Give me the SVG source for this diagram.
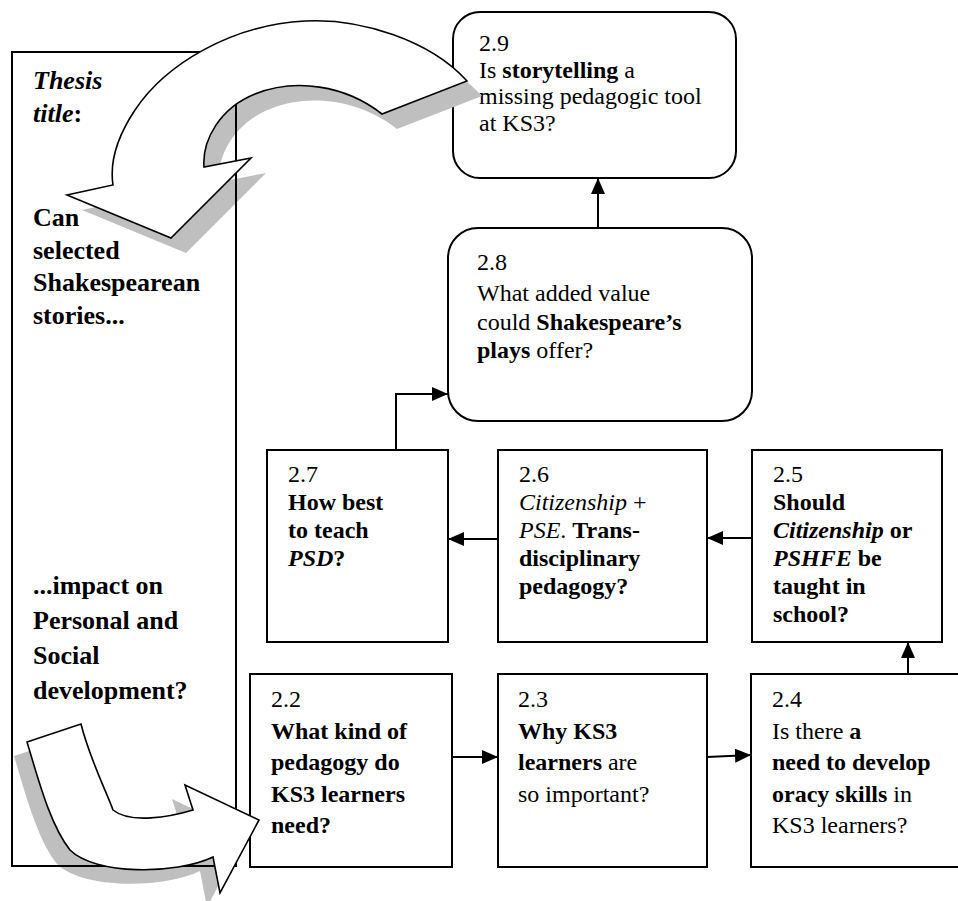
<svg xmlns="http://www.w3.org/2000/svg" width="958" height="901" viewBox="0 0 958 901" font-family="'Liberation Serif', 'Times New Roman', 'DejaVu Serif', serif">
<style>
text, tspan{font-family:'Liberation Serif', 'Times New Roman', 'DejaVu Serif', serif;fill:#000}
.t{font-size:24px}
.lt{font-size:26px;font-weight:bold}
.b{font-weight:bold}
.i{font-style:italic}
.box{fill:#fff;stroke:#000;stroke-width:2}
.frame{fill:none;stroke:#000;stroke-width:2}
.conn{fill:none;stroke:#000;stroke-width:2}
.shadow{fill:#bfbfbf;stroke:none}
.bigarrow{fill:#fff;stroke:#000;stroke-width:1.6;stroke-linejoin:miter}
</style>
<defs>
<marker id="ah" markerUnits="userSpaceOnUse" markerWidth="16" markerHeight="14" refX="16" refY="7" orient="auto">
<path d="M0,0 L16,7 L0,14 Z" fill="#000"/>
</marker>
</defs>
<rect width="958" height="901" fill="#fff"/>

<g id="node-2-9">
<rect class="box" x="453" y="12" width="283" height="166" rx="27" ry="27"/>
<text class="t" x="479" y="51">2.9</text>
<text class="t" x="479" y="78">Is <tspan class="b">storytelling</tspan> a</text>
<text class="t" x="479" y="104">missing pedagogic tool</text>
<text class="t" x="479" y="131">at KS3?</text>
</g>
<g id="node-2-8">
<rect class="box" x="448" y="228" width="304" height="193" rx="30" ry="30"/>
<text class="t" x="477" y="270">2.8</text>
<text class="t" x="477" y="301">What added value</text>
<text class="t" x="477" y="330">could <tspan class="b">Shakespeare’s</tspan></text>
<text class="t" x="477" y="358"><tspan class="b">plays</tspan> offer?</text>
</g>
<g id="node-2-7">
<rect class="box" x="267" y="450" width="181" height="192"/>
<text class="t" x="288" y="482">2.7</text>
<text class="t b" x="288" y="510">How best</text>
<text class="t b" x="288" y="538">to teach</text>
<text class="t b" x="288" y="566"><tspan class="i">PSD</tspan>?</text>
</g>
<g id="node-2-6">
<rect class="box" x="498" y="450" width="209" height="192"/>
<text class="t" x="519" y="482">2.6</text>
<text class="t" x="519" y="510"><tspan class="i">Citizenship</tspan> +</text>
<text class="t" x="519" y="538"><tspan class="i">PSE</tspan>. <tspan class="b">Trans-</tspan></text>
<text class="t b" x="519" y="566">disciplinary</text>
<text class="t b" x="519" y="594">pedagogy?</text>
</g>
<g id="node-2-5">
<rect class="box" x="752" y="450" width="190" height="192"/>
<text class="t" x="773" y="482">2.5</text>
<text class="t b" x="773" y="510">Should</text>
<text class="t b" x="773" y="538"><tspan class="i">Citizenship</tspan> or</text>
<text class="t b" x="773" y="566"><tspan class="i">PSHFE</tspan> be</text>
<text class="t b" x="773" y="594">taught in</text>
<text class="t b" x="773" y="622">school?</text>
</g>
<g id="node-2-2">
<rect class="box" x="250" y="674" width="202" height="193"/>
<text class="t" x="271" y="707">2.2</text>
<text class="t b" x="271" y="739">What kind of</text>
<text class="t b" x="271" y="770">pedagogy do</text>
<text class="t b" x="271" y="802">KS3 learners</text>
<text class="t b" x="271" y="833">need?</text>
</g>
<g id="node-2-3">
<rect class="box" x="498" y="674" width="209" height="193"/>
<text class="t" x="518" y="707">2.3</text>
<text class="t b" x="518" y="739">Why KS3</text>
<text class="t" x="518" y="770"><tspan class="b">learners</tspan> are</text>
<text class="t" x="518" y="802">so important?</text>
</g>
<g id="node-2-4">
<rect class="box" x="751" y="674" width="230" height="193"/>
<text class="t" x="772" y="707">2.4</text>
<text class="t" x="772" y="739">Is there <tspan class="b">a</tspan></text>
<text class="t b" x="772" y="770">need to develop</text>
<text class="t" x="772" y="802"><tspan class="b">oracy skills</tspan> in</text>
<text class="t" x="772" y="833">KS3 learners?</text>
</g>

<g id="connectors">
<line class="conn" x1="452" y1="757" x2="498" y2="757" marker-end="url(#ah)"/>
<line class="conn" x1="707" y1="757" x2="751" y2="755" marker-end="url(#ah)"/>
<line class="conn" x1="908" y1="674" x2="908" y2="642" marker-end="url(#ah)"/>
<line class="conn" x1="752" y1="538" x2="707" y2="538" marker-end="url(#ah)"/>
<line class="conn" x1="498" y1="539" x2="448" y2="539" marker-end="url(#ah)"/>
<polyline class="conn" points="396,450 396,394 448,394" marker-end="url(#ah)"/>
<line class="conn" x1="598" y1="228" x2="598" y2="178" marker-end="url(#ah)"/>
</g>

<g id="arrow-shadows">
<path class="shadow" transform="translate(15,15)" d="M467,81 C430,40 360,18 305,21 C230,25 165,65 135,110 C115,140 110,165 113,185 L67,195 L171,238 L251,158 L204,167 C202,140 220,108 255,94 C295,78 345,85 382,114 Z"/>
<path class="shadow" transform="translate(-13,14)" d="M27,742 C38,778 50,825 70,850 C95,875 175,875 213,857 L220,893 L259,820 L185,785 L193,810 C170,817 130,824 113,810 C108,795 90,760 81,724 Z"/>
</g>

<g id="thesis-title">
<rect class="frame" x="12" y="52" width="224" height="814"/>
<text class="lt" x="33" y="89"><tspan class="i">Thesis</tspan></text>
<text class="lt" x="33" y="122"><tspan class="i">title</tspan>:</text>
<text class="lt" x="33" y="226">Can</text>
<text class="lt" x="33" y="259">selected</text>
<text class="lt" x="33" y="291">Shakespearean</text>
<text class="lt" x="33" y="324">stories...</text>
<text class="lt" x="33" y="594">...impact on</text>
<text class="lt" x="33" y="629">Personal and</text>
<text class="lt" x="33" y="664">Social</text>
<text class="lt" x="33" y="699">development?</text>
</g>

<g id="curved-arrows">
<path class="bigarrow" d="M467,81 C430,40 360,18 305,21 C230,25 165,65 135,110 C115,140 110,165 113,185 L67,195 L171,238 L251,158 L204,167 C202,140 220,108 255,94 C295,78 345,85 382,114 Z"/>
<path class="bigarrow" d="M27,742 C38,778 50,825 70,850 C95,875 175,875 213,857 L220,893 L259,820 L185,785 L193,810 C170,817 130,824 113,810 C108,795 90,760 81,724 Z"/>
</g>
</svg>
